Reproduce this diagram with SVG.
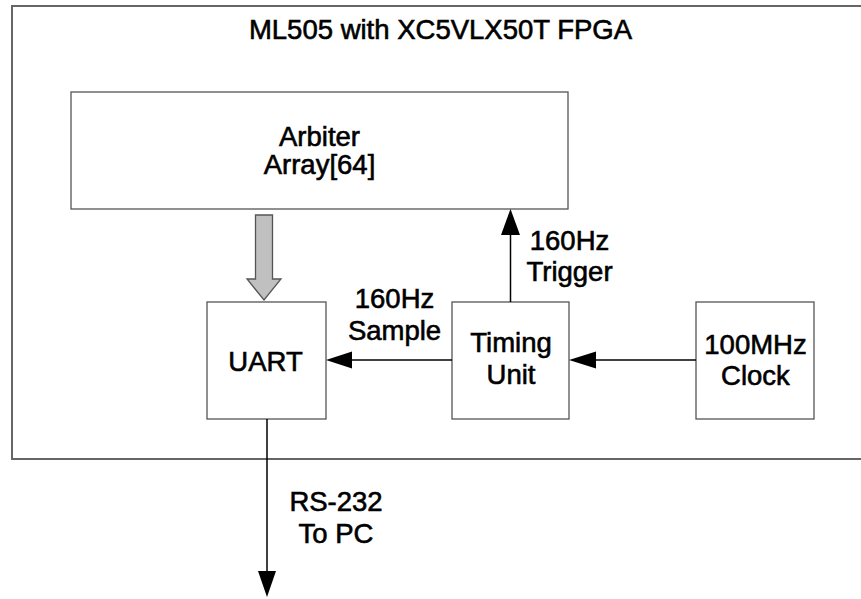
<svg xmlns="http://www.w3.org/2000/svg" width="861" height="599" viewBox="0 0 861 599">
<defs>
<style>
.box{fill:#fff;stroke:#555;stroke-width:1.3}
.outer{fill:#fff;stroke:#666;stroke-width:2}
.t{font-family:"Liberation Sans",Arial,sans-serif;font-size:27.5px;fill:#000;stroke:#000;stroke-width:0.6;text-anchor:middle}
.wire{stroke:#000;stroke-width:1.5;fill:none}
.head{fill:#000;stroke:none}
</style>
</defs>
<rect width="861" height="599" fill="#fff"/>
<g id="board">
<rect class="outer" x="12" y="6" width="870" height="453"/>
<text class="t" x="440.5" y="39">ML505 with XC5VLX50T FPGA</text>
</g>
<g id="arbiter">
<rect class="box" x="71" y="92" width="497" height="117"/>
<text class="t" x="319.5" y="146">Arbiter</text>
<text class="t" x="319.5" y="174">Array[64]</text>
</g>
<g id="uart">
<rect class="box" x="207" y="302" width="119" height="117"/>
<text class="t" x="265.5" y="371">UART</text>
</g>
<g id="timing">
<rect class="box" x="452" y="302" width="117" height="117"/>
<text class="t" x="511" y="352">Timing</text>
<text class="t" x="511" y="384">Unit</text>
</g>
<g id="clock">
<rect class="box" x="696" y="302" width="118" height="117"/>
<text class="t" x="755.5" y="354">100MHz</text>
<text class="t" x="755.5" y="385">Clock</text>
</g>
<g id="connectors">
<path d="M255.5 215 H272.5 V279 H281 L264 300 L247 279 H255.5 Z" fill="#c0c0c0" stroke="#555" stroke-width="1.3"/>
<line class="wire" x1="510.5" y1="302" x2="510.5" y2="232"/>
<polygon class="head" points="510.5,209 501,235 520,235"/>
<line class="wire" x1="452" y1="360" x2="350" y2="360"/>
<polygon class="head" points="326,360 352,351.5 352,368.5"/>
<line class="wire" x1="696" y1="360" x2="593" y2="360"/>
<polygon class="head" points="569,360 596,351.5 596,368.5"/>
<line class="wire" x1="267" y1="419" x2="267" y2="574"/>
<polygon class="head" points="267,597 258,571 276,571"/>
<text class="t" x="569.5" y="250">160Hz</text>
<text class="t" x="569.5" y="281">Trigger</text>
<text class="t" x="394.5" y="308">160Hz</text>
<text class="t" x="394.5" y="340">Sample</text>
<text class="t" x="336" y="511">RS-232</text>
<text class="t" x="336" y="543">To PC</text>
</g>
</svg>
